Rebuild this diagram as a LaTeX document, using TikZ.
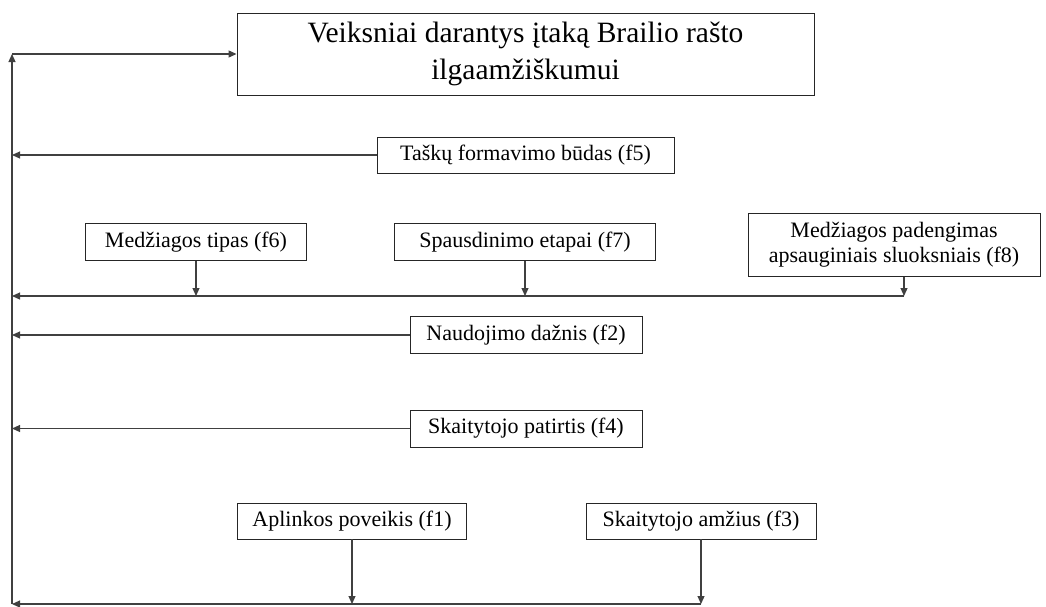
\documentclass[tikz,border=0pt]{standalone}
\usepackage{fontspec}
\setmainfont{Liberation Serif}
\usetikzlibrary{arrows.meta}
\begin{document}
\begin{tikzpicture}[x=1pt,y=-1pt,
  box/.style={draw=black!85, line width=0.9pt, fill=white, inner sep=0pt, align=center,
    font=\fontsize{22}{25}\selectfont},
  conn/.style={draw=black!75, line width=1.1pt},
  arr/.style={conn, -{Triangle[length=8pt,width=7pt]}}]
\useasboundingbox (0,0) rectangle (1046,606);
\node[box, minimum width=577pt, minimum height=82pt, font=\fontsize{29.5}{37}\selectfont] (title) at (525.5,54) {Veiksniai darantys įtaką Brailio rašto\\ilgaamžiškumui};
\node[box, minimum width=297pt, minimum height=36pt] (f5) at (525.5,155) {Taškų formavimo būdas (f5)};
\node[box, minimum width=221pt, minimum height=37pt] (f6) at (196,242) {Medžiagos tipas (f6)};
\node[box, minimum width=261pt, minimum height=37pt] (f7) at (525,242) {Spausdinimo etapai (f7)};
\node[box, minimum width=292pt, minimum height=63pt] (f8) at (894,245) {Medžiagos padengimas\\apsauginiais sluoksniais (f8)};
\node[box, minimum width=232pt, minimum height=37pt] (f2) at (526,335) {Naudojimo dažnis (f2)};
\node[box, minimum width=232pt, minimum height=37pt] (f4) at (526,428.5) {Skaitytojo patirtis (f4)};
\node[box, minimum width=229pt, minimum height=36pt] (f1) at (352,521) {Aplinkos poveikis (f1)};
\node[box, minimum width=230pt, minimum height=36pt] (f3) at (701,521) {Skaitytojo amžius (f3)};
\coordinate (tl) at (12,54);
\coordinate (bl) at (12,604);
\coordinate (busA) at (12,296);
\coordinate (f8d) at (904,276.5);
\draw[arr] (bl) -- (tl);
\draw[arr] (tl) -- (title.west);
\draw[arr] (f5.west) -- (f5.west -| tl);
\draw[arr] (f8d |- busA) -- (busA);
\draw[arr] (f6.south) -- (f6.south |- busA);
\draw[arr] (f7.south) -- (f7.south |- busA);
\draw[arr] (f8d) -- (f8d |- busA);
\draw[arr] (f2.west) -- (f2.west -| tl);
\draw[arr] (f4.west) -- (f4.west -| tl);
\draw[arr] (f3.south |- bl) -- (bl);
\draw[arr] (f1.south) -- (f1.south |- bl);
\draw[arr] (f3.south) -- (f3.south |- bl);
\end{tikzpicture}
\end{document}
